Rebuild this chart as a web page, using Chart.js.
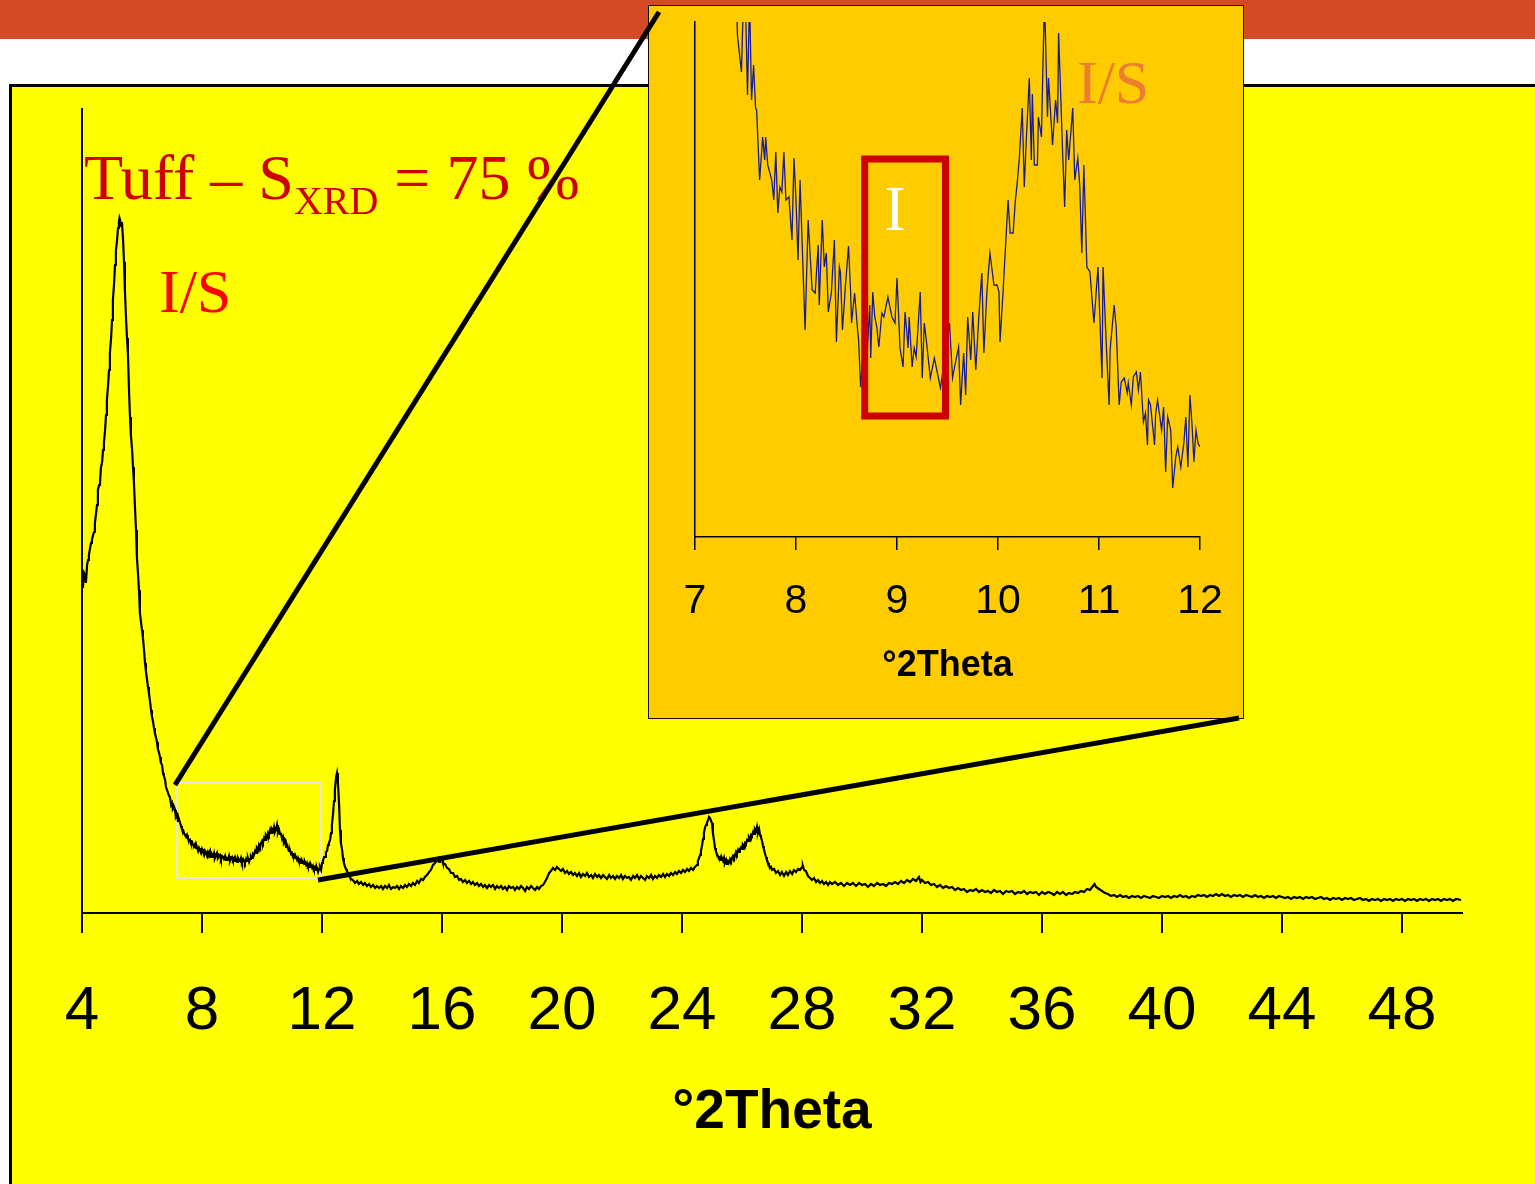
<!DOCTYPE html>
<html>
<head>
<meta charset="utf-8">
<script src="https://cdn.jsdelivr.net/npm/chart.js@4/dist/chart.umd.min.js"></script>
<style>
html,body{margin:0;padding:0;background:#fff;width:1535px;height:1184px;overflow:hidden;position:relative}
#band{position:absolute;left:0;top:0;width:1535px;height:39px;background:#D34A27}
#panel{position:absolute;left:9px;top:84px;width:1600px;height:1200px;box-sizing:border-box;border:3px solid #000;background:#FFFF00}
#mainChart{position:absolute;left:0;top:0}
#insetBox{position:absolute;left:648px;top:5px;width:596px;height:714px;box-sizing:border-box;border:1.5px solid #111;background:#FFCC00}
#insetChart{position:absolute;left:648px;top:5px}
#overlay{position:absolute;left:0;top:0}
#overlay text{white-space:pre}
</style>
</head>
<body>
<div id="band"></div>
<div id="panel"></div>
<canvas id="mainChart" width="1535" height="1184"></canvas>
<div id="insetBox"></div>
<canvas id="insetChart" width="596" height="714"></canvas>
<svg id="overlay" width="1535" height="1184" xmlns="http://www.w3.org/2000/svg">
  <g font-family="'Liberation Serif','Times New Roman',serif">
    <text x="84" y="199" font-size="64" fill="#CC0000">Tuff – S<tspan font-size="40" dy="15">XRD</tspan><tspan font-size="64" dy="-15"> = 75 %</tspan></text>
    <text x="159" y="312" font-size="62" fill="#FF0000">I/S</text>
    <text x="895" y="230" font-size="63" fill="#FFFFFF" text-anchor="middle">I</text>
    <text x="1077" y="103" font-size="62" fill="#ED7D31">I/S</text>
  </g>
  <line x1="175" y1="785" x2="659" y2="12" stroke="#000" stroke-width="5"/>
  <line x1="318" y1="880" x2="1239" y2="718" stroke="#000" stroke-width="5"/>
</svg>
<script>
// ---------- DATA ----------
const mainTickValues = [4, 8, 12, 16, 20, 24, 28, 32, 36, 40, 44, 48];
const insetTickValues = [7, 8, 9, 10, 11, 12];
const axisTitle = '°2Theta';

const mainTheta = [
4.00,4.03,4.07,4.10,4.13,4.17,4.20,4.23,4.27,4.30,4.33,4.37,4.40,4.43,4.47,4.50,4.53,4.57,4.60,4.63,
4.67,4.70,4.73,4.77,4.80,4.83,4.87,4.90,4.93,4.97,5.00,5.03,5.07,5.10,5.13,5.17,5.20,5.23,5.25,5.27,
5.30,5.33,5.37,5.40,5.43,5.47,5.50,5.53,5.57,5.60,5.63,5.67,5.70,5.73,5.77,5.80,5.83,5.87,5.90,5.93,
5.97,6.00,6.03,6.07,6.10,6.13,6.17,6.20,6.23,6.27,6.30,6.33,6.37,6.40,6.43,6.47,6.50,6.53,6.57,6.60,
6.63,6.67,6.70,6.73,6.77,6.80,6.83,6.87,6.90,6.93,6.97,7.00,7.03,7.07,7.10,7.13,7.17,7.20,7.23,7.27,
7.30,7.33,7.37,7.40,7.43,7.47,7.50,7.53,7.57,7.60,7.63,7.67,7.70,7.73,7.77,7.80,7.83,7.87,7.90,7.93,
7.97,8.00,8.03,8.07,8.10,8.13,8.17,8.20,8.23,8.27,8.30,8.33,8.37,8.40,8.43,8.47,8.50,8.53,8.57,8.60,
8.63,8.67,8.70,8.73,8.77,8.80,8.83,8.87,8.90,8.93,8.97,9.00,9.03,9.07,9.10,9.13,9.17,9.20,9.23,9.27,
9.30,9.33,9.37,9.40,9.43,9.47,9.50,9.53,9.57,9.60,9.63,9.67,9.70,9.73,9.77,9.80,9.83,9.87,9.90,9.93,
9.97,10.00,10.03,10.07,10.10,10.13,10.17,10.20,10.23,10.27,10.30,10.33,10.37,10.40,10.43,10.47,10.50,10.53,10.57,10.60,
10.63,10.67,10.70,10.73,10.77,10.80,10.83,10.87,10.90,10.93,10.97,11.00,11.03,11.07,11.10,11.13,11.17,11.20,11.23,11.27,
11.30,11.33,11.37,11.40,11.43,11.47,11.50,11.53,11.57,11.60,11.63,11.67,11.70,11.73,11.77,11.80,11.83,11.87,11.90,11.93,
11.97,12.00,12.03,12.07,12.10,12.13,12.17,12.20,12.23,12.27,12.30,12.33,12.37,12.40,12.43,12.47,12.50,12.53,12.57,12.60,
12.63,12.67,12.70,12.73,12.77,12.80,12.83,12.87,12.90,12.93,12.97,13.03,13.10,13.17,13.23,13.30,13.37,13.43,13.50,13.57,
13.63,13.70,13.77,13.83,13.90,13.97,14.03,14.10,14.17,14.23,14.30,14.37,14.43,14.50,14.57,14.63,14.70,14.77,14.83,14.90,
14.97,15.03,15.10,15.17,15.23,15.30,15.37,15.43,15.50,15.57,15.63,15.70,15.77,15.83,15.90,15.93,16.00,16.03,16.10,16.17,
16.23,16.30,16.37,16.43,16.50,16.57,16.63,16.70,16.77,16.83,16.90,16.97,17.03,17.10,17.17,17.23,17.30,17.37,17.43,17.50,
17.57,17.63,17.70,17.77,17.83,17.90,17.97,18.03,18.10,18.17,18.23,18.30,18.37,18.43,18.50,18.57,18.63,18.70,18.77,18.83,
18.90,18.97,19.03,19.10,19.17,19.23,19.30,19.37,19.43,19.50,19.57,19.63,19.70,19.77,19.83,19.90,19.97,20.03,20.10,20.17,
20.23,20.30,20.37,20.43,20.50,20.57,20.63,20.70,20.77,20.83,20.90,20.97,21.03,21.10,21.17,21.23,21.30,21.37,21.43,21.50,
21.57,21.63,21.70,21.77,21.83,21.90,21.97,22.03,22.10,22.17,22.23,22.30,22.37,22.43,22.50,22.57,22.63,22.70,22.77,22.83,
22.90,22.97,23.03,23.10,23.17,23.23,23.30,23.37,23.43,23.50,23.57,23.63,23.70,23.77,23.83,23.90,23.97,24.03,24.10,24.17,
24.23,24.30,24.37,24.43,24.50,24.53,24.57,24.60,24.63,24.67,24.70,24.73,24.77,24.80,24.83,24.87,24.90,24.93,24.97,25.00,
25.03,25.07,25.10,25.13,25.17,25.20,25.23,25.27,25.30,25.33,25.37,25.40,25.43,25.47,25.50,25.53,25.57,25.60,25.63,25.67,
25.70,25.73,25.77,25.80,25.83,25.87,25.90,25.93,25.97,26.00,26.03,26.07,26.10,26.13,26.17,26.20,26.23,26.27,26.30,26.33,
26.37,26.40,26.43,26.47,26.50,26.53,26.57,26.60,26.63,26.67,26.70,26.73,26.77,26.80,26.83,26.87,26.90,26.93,26.97,27.00,
27.07,27.13,27.20,27.27,27.33,27.40,27.47,27.53,27.60,27.67,27.73,27.80,27.87,27.93,28.00,28.03,28.07,28.13,28.20,28.27,
28.33,28.40,28.47,28.53,28.60,28.67,28.73,28.80,28.87,28.93,29.00,29.10,29.20,29.30,29.40,29.50,29.60,29.70,29.80,29.90,
30.00,30.10,30.20,30.30,30.40,30.50,30.60,30.70,30.80,30.90,31.00,31.10,31.20,31.30,31.40,31.50,31.60,31.70,31.80,31.90,
31.95,32.00,32.10,32.20,32.30,32.40,32.50,32.60,32.70,32.80,32.90,33.00,33.10,33.20,33.30,33.40,33.50,33.60,33.70,33.80,
33.90,34.00,34.10,34.20,34.30,34.40,34.50,34.60,34.70,34.80,34.90,35.00,35.10,35.20,35.30,35.40,35.50,35.60,35.70,35.80,
35.90,36.00,36.10,36.20,36.30,36.40,36.50,36.60,36.70,36.80,36.90,37.00,37.10,37.20,37.30,37.40,37.50,37.60,37.70,37.75,
37.80,37.90,38.00,38.10,38.20,38.30,38.40,38.50,38.60,38.70,38.80,38.90,39.00,39.10,39.20,39.30,39.40,39.50,39.60,39.70,
39.80,39.90,40.00,40.10,40.20,40.30,40.40,40.50,40.60,40.70,40.80,40.90,41.00,41.10,41.20,41.30,41.40,41.50,41.60,41.70,
41.80,41.90,42.00,42.10,42.20,42.30,42.40,42.50,42.60,42.70,42.80,42.90,43.00,43.10,43.20,43.30,43.40,43.50,43.60,43.70,
43.80,43.90,44.00,44.10,44.20,44.30,44.40,44.50,44.60,44.70,44.80,44.90,45.00,45.10,45.20,45.30,45.40,45.50,45.60,45.70,
45.80,45.90,46.00,46.10,46.20,46.30,46.40,46.50,46.60,46.70,46.80,46.90,47.00,47.10,47.20,47.30,47.40,47.50,47.60,47.70,
47.80,47.90,48.00,48.10,48.20,48.30,48.40,48.50,48.60,48.70,48.80,48.90,49.00,49.10,49.20,49.30,49.40,49.50,49.60,49.70,
49.80,49.97
];
const mainCounts = [
335,325,340,338,330,348,353,358,365,370,373,378,381,390,400,408,423,428,430,445,
451,463,470,483,498,513,528,543,560,575,593,613,630,648,662,673,685,691,695,693,
687,691,673,651,623,593,575,560,520,496,478,463,446,431,403,383,356,338,323,300,
290,283,276,262,250,242,233,226,220,211,203,197,191,185,180,175,171,164,160,156,
150,148,140,137,133,126,126,120,117,116,108,110,104,106,103,96,98,92,94,90,
87,84,83,80,80,76,78,75,72,73,70,71,68,67,69,65,66,62,65,63,
60,64,62,58,62,60,57,61,59,62,56,59,57,60,55,58,60,55,57,58,
54,57,56,54,57,53,55,54,57,52,55,56,53,55,52,54,51,55,53,52,
55,51,54,52,50,54,52,55,51,54,57,55,59,58,62,60,65,63,68,66,
70,72,70,75,73,78,76,80,78,83,80,84,82,86,81,84,88,80,83,79,
80,74,76,70,72,66,68,64,62,63,59,60,57,58,55,56,53,55,52,53,
50,53,51,49,51,48,50,47,49,46,48,45,47,44,46,43,45,41,44,46,
43,50,52,56,56,61,62,68,70,73,80,88,100,112,123,136,140,131,108,83,
70,63,55,50,46,44,42,40,38,36,34,33,30,32,29,31,28,30,27,29,
26,28,25,27,25,27,24,27,25,28,24,26,25,27,24,27,25,28,26,29,
27,30,28,32,30,34,33,36,38,41,43,48,50,53,51,55,53,50,49,45,
44,40,40,36,37,33,34,31,33,30,32,29,31,28,30,27,29,26,28,25,
28,26,28,24,27,25,27,24,26,23,27,25,26,23,26,24,27,25,22,26,
24,27,25,23,26,24,27,28,31,35,40,42,45,43,46,44,42,44,40,42,
39,41,38,40,37,40,36,39,37,40,36,38,35,39,36,38,35,38,36,34,
38,35,37,34,37,35,38,34,37,35,36,33,37,35,38,34,37,35,33,37,
35,38,34,37,35,38,36,39,36,39,37,40,38,41,39,42,40,43,41,44,
42,45,43,46,48,52,55,58,62,68,74,80,86,88,90,93,96,95,92,90,
80,72,65,62,58,57,55,56,53,55,52,55,50,53,49,52,51,54,52,55,
57,55,58,61,59,63,61,64,66,64,68,66,70,69,73,72,76,74,78,77,
81,79,84,82,86,80,84,78,76,72,67,64,59,56,53,50,48,45,46,43,
44,40,42,38,41,37,41,38,42,39,43,41,44,43,46,47,43,42,37,35,
33,35,31,33,30,32,29,31,28,31,29,31,28,30,27,30,28,30,27,30,
28,29,26,29,27,30,28,29,27,30,29,31,29,32,30,33,31,34,32,36,
31,33,30,31,28,29,26,28,25,27,25,26,23,25,23,24,21,23,22,24,
21,23,21,22,20,23,21,22,19,22,21,22,19,21,20,22,19,21,20,21,
18,21,19,21,20,18,21,19,21,18,20,19,21,20,22,21,24,23,27,29,
26,24,22,20,19,17,18,16,18,16,17,15,17,16,17,15,17,16,15,17,
16,15,17,16,17,15,17,16,18,16,17,15,17,16,18,17,18,16,18,17,
19,17,19,17,18,16,18,17,18,16,18,17,16,18,16,17,15,17,16,17,
15,17,16,15,16,14,16,15,16,14,16,15,16,14,15,16,14,15,13,15,
14,15,13,15,14,15,13,14,15,13,14,12,14,13,14,12,14,13,14,12,
14,13,14,12,14,13,14,12,14,13,14,12,14,13,14,12,14,13,14,12,
14,13
];

const insetTheta = [
7.41,7.42,7.46,7.48,7.50,7.52,7.54,7.56,7.58,7.60,7.61,7.64,7.67,7.69,7.70,7.72,7.76,7.78,7.80,7.82,
7.84,7.86,7.88,7.90,7.93,7.96,7.98,8.00,8.02,8.04,8.09,8.12,8.16,8.19,8.22,8.23,8.26,8.28,8.30,8.32,
8.35,8.38,8.40,8.43,8.44,8.46,8.49,8.52,8.54,8.55,8.58,8.61,8.62,8.64,8.67,8.70,8.73,8.74,8.76,8.78,
8.80,8.82,8.85,8.87,8.91,8.95,8.98,9.00,9.03,9.06,9.08,9.11,9.12,9.15,9.17,9.19,9.23,9.25,9.27,9.29,
9.33,9.37,9.39,9.43,9.46,9.52,9.55,9.57,9.61,9.63,9.66,9.68,9.70,9.73,9.75,9.78,9.81,9.84,9.86,9.89,
9.92,9.96,9.99,10.01,10.02,10.05,10.10,10.12,10.15,10.17,10.19,10.21,10.24,10.26,10.28,10.31,10.33,10.34,10.36,10.39,
10.40,10.43,10.46,10.49,10.50,10.54,10.57,10.59,10.60,10.64,10.66,10.68,10.70,10.74,10.76,10.79,10.81,10.83,10.85,10.88,
10.91,10.95,10.99,11.03,11.04,11.07,11.10,11.11,11.15,11.17,11.20,11.22,11.25,11.28,11.29,11.32,11.34,11.37,11.39,11.41,
11.44,11.46,11.48,11.49,11.51,11.55,11.56,11.58,11.62,11.64,11.66,11.68,11.71,11.73,11.76,11.78,11.81,11.84,11.86,11.88,
11.90,11.92,11.94,11.96,11.98,12.00
];
const insetCounts = [
540,502,465,540,532,442,540,437,472,429,427,357,400,377,400,372,357,337,385,324,
350,345,385,337,340,297,379,337,277,357,207,317,247,244,292,232,317,270,284,225,
244,297,195,270,265,207,252,291,247,214,244,207,197,150,190,175,232,179,245,220,
210,190,224,220,240,220,214,259,189,170,225,189,220,170,189,180,245,159,214,197,
159,179,169,149,170,214,159,170,190,132,184,142,220,177,225,167,220,264,184,245,
284,252,252,245,195,245,337,304,304,334,354,377,429,350,397,459,377,443,372,372,
420,400,540,420,459,392,437,414,504,384,330,407,377,429,357,379,350,284,372,270,
265,214,270,159,270,197,132,187,232,210,132,155,159,144,154,132,160,165,147,165,
115,124,92,137,132,92,122,137,107,130,65,120,107,49,80,90,70,94,120,70,
142,114,75,107,94,90
];

// annotation regions (data units): [thetaMin, thetaMax, countMin, countMax]
const mainZoomRegion = [7.17, 11.97, 35, 130];
const insetIllitRegion = [8.68, 9.48, 121, 378];

// ---------- CHARTS ----------
const sans = "'Liberation Sans', Arial, Helvetica, sans-serif";

function toPoints(xs, ys) { return xs.map((x, i) => ({ x: x, y: ys[i] })); }

function rectPlugin(id, region, color, width, phase) {
  const fn = function (chart) {
    const { ctx, scales } = chart;
    const x0 = scales.x.getPixelForValue(region[0]);
    const x1 = scales.x.getPixelForValue(region[1]);
    const y0 = scales.y.getPixelForValue(region[2]);
    const y1 = scales.y.getPixelForValue(region[3]);
    ctx.save();
    ctx.strokeStyle = color;
    ctx.lineWidth = width;
    ctx.strokeRect(x0, y1, x1 - x0, y0 - y1);
    ctx.restore();
  };
  const p = { id: id };
  p[phase] = fn;
  return p;
}

function fixHeight(h) {
  return s => { s.height = h; s.paddingLeft = 0; s.paddingRight = 0; };
}
function fixWidth(s) { s.width = 0; s.paddingTop = 0; s.paddingBottom = 0; }

new Chart(document.getElementById('mainChart'), {
  type: 'line',
  data: {
    datasets: [{
      data: toPoints(mainTheta, mainCounts),
      borderColor: '#000000',
      borderWidth: 2.2,
      pointRadius: 0,
      tension: 0,
      fill: false
    }]
  },
  options: {
    responsive: false,
    animation: false,
    devicePixelRatio: 1,
    layout: { padding: { left: 82, top: 109, right: 73, bottom: 0 } },
    plugins: { legend: { display: false }, tooltip: { enabled: false } },
    scales: {
      x: {
        type: 'linear', min: 4, max: 50,
        afterBuildTicks: s => { s.ticks = mainTickValues.map(v => ({ value: v })); },
        afterFit: fixHeight(271),
        ticks: { color: '#000', autoSkip: false, maxRotation: 0, padding: 42,
                 font: { family: sans, size: 62 } },
        grid: { drawOnChartArea: false, drawTicks: true, tickLength: 20, color: '#000', lineWidth: 2 },
        border: { display: true, color: '#000', width: 2 },
        title: { display: true, text: axisTitle, color: '#000',
                 font: { family: sans, size: 55, weight: 'bold' }, padding: { top: 0, bottom: 38 } }
      },
      y: {
        min: 0, max: 804,
        afterFit: fixWidth,
        ticks: { display: false },
        grid: { display: false },
        border: { display: true, color: '#000', width: 2 }
      }
    }
  },
  plugins: [rectPlugin('zoomBox', mainZoomRegion, '#E6E6E6', 2, 'beforeDatasetsDraw')]
});

new Chart(document.getElementById('insetChart'), {
  type: 'line',
  data: {
    datasets: [{
      data: toPoints(insetTheta, insetCounts),
      borderColor: '#1a1a99',
      borderWidth: 1.3,
      pointRadius: 0,
      tension: 0,
      fill: false
    }]
  },
  options: {
    responsive: false,
    animation: false,
    devicePixelRatio: 1,
    layout: { padding: { left: 47, top: 17, right: 44, bottom: 0 } },
    plugins: { legend: { display: false }, tooltip: { enabled: false } },
    scales: {
      x: {
        type: 'linear', min: 7, max: 12,
        afterBuildTicks: s => { s.ticks = insetTickValues.map(v => ({ value: v })); },
        afterFit: fixHeight(182),
        ticks: { color: '#000', autoSkip: false, maxRotation: 0, padding: 27,
                 font: { family: sans, size: 41 } },
        grid: { drawOnChartArea: false, drawTicks: true, tickLength: 13, color: '#000', lineWidth: 1.5 },
        border: { display: true, color: '#000', width: 1.5 },
        title: { display: true, text: axisTitle, color: '#000',
                 font: { family: sans, size: 36, weight: 'bold' }, padding: { top: 0, bottom: 31 } }
      },
      y: {
        min: 0, max: 515,
        afterFit: fixWidth,
        ticks: { display: false },
        grid: { display: false },
        border: { display: true, color: '#000', width: 1.5 }
      }
    }
  },
  plugins: [rectPlugin('illiteBox', insetIllitRegion, '#CC0000', 7, 'afterDatasetsDraw')]
});
</script>
</body>
</html>
